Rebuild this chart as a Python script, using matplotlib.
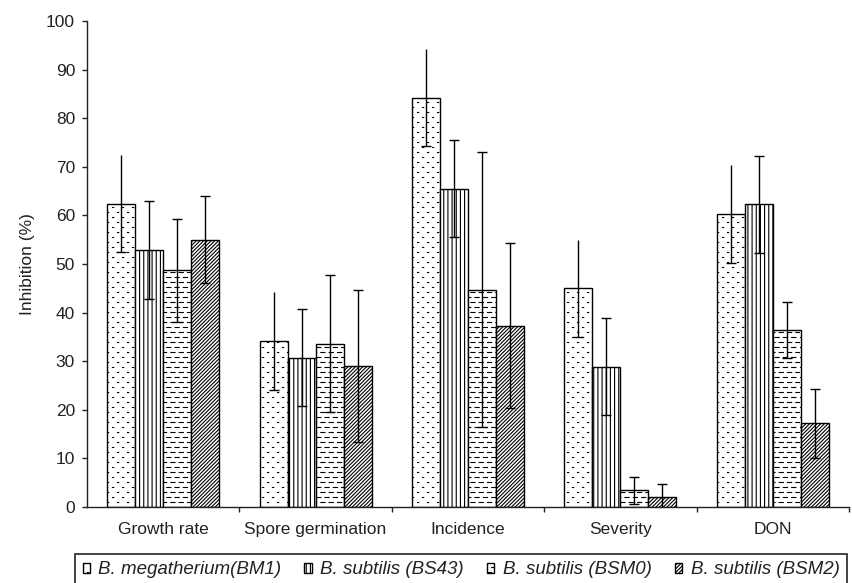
import numpy as np
import matplotlib
matplotlib.use("Agg")
import matplotlib.pyplot as plt
import matplotlib.hatch as mhatch
from matplotlib.path import Path

# ---------------- data ----------------
categories = ["Growth rate", "Spore germination", "Incidence", "Severity", "DON"]
series_names = ["B. megatherium(BM1)", "B. subtilis (BS43)",
                "B. subtilis (BSM0)", "B. subtilis (BSM2)"]
bm1 = [62.4, 34.1, 84.2, 45.0, 60.3]
bs43 = [52.9, 30.7, 65.5, 28.9, 62.3]
bsm0 = [48.7, 33.6, 44.7, 3.4, 36.4]
bsm2 = [55.0, 29.0, 37.3, 2.1, 17.2]
bm1_err = [10.0, 10.1, 10.0, 10.0, 10.0]
bs43_err = [10.0, 10.0, 10.0, 10.0, 10.0]
bsm0_err = [10.6, 14.1, 28.3, 2.8, 5.8]
bsm2_err = [9.0, 15.6, 17.0, 2.6, 7.1]
y_ticks = [0, 10, 20, 30, 40, 50, 60, 70, 80, 90, 100]


# ---------------- custom hatch patterns ----------------
class DotHatch(mhatch.HatchPatternBase):
    def __init__(self, hatch, density):
        n = hatch.count('.')
        self.ncol = 10 * n
        self.nrow = 20 * n
        self.num_vertices = self.ncol * self.nrow * 2 if n else 0

    def set_vertices_and_codes(self, vertices, codes):
        pts = []
        for r in range(self.nrow):
            y = (r + 0.5) / self.nrow
            shift = 0.5 if r % 2 else 0.0
            for c in range(self.ncol):
                x = (c + 0.25 + shift) / self.ncol
                pts.append((x, y))
                pts.append((x + 0.012, y))
        vertices[:] = np.array(pts)
        codes[0::2] = Path.MOVETO
        codes[1::2] = Path.LINETO


class DashHatch(mhatch.HatchPatternBase):
    def __init__(self, hatch, density):
        n = hatch.count('-')
        self.ncol = 12 * n
        self.nrow = 20 * n
        self.num_vertices = self.ncol * self.nrow * 2 if n else 0

    def set_vertices_and_codes(self, vertices, codes):
        pts = []
        p = 1.0 / self.ncol
        for r in range(self.nrow):
            y = (r + 0.5) / self.nrow
            shift = 0.5 if r % 2 else 0.0
            for c in range(self.ncol):
                x0 = (c + shift) * p
                pts.append((x0, y))
                pts.append((x0 + 0.5 * p, y))
        vertices[:] = np.array(pts)
        codes[0::2] = Path.MOVETO
        codes[1::2] = Path.LINETO


_types = mhatch._hatch_types
for i, t in enumerate(_types):
    if t is mhatch.HorizontalHatch:
        _types[i] = DashHatch
    elif t is mhatch.SmallFilledCircles:
        _types[i] = DotHatch

# ---------------- plotting ----------------
plt.rcParams['font.family'] = ['Liberation Sans', 'DejaVu Sans']
plt.rcParams['hatch.linewidth'] = 0.8
plt.rcParams['hatch.color'] = 'black'

FS = 12.5
fig = plt.figure(figsize=(8.52, 5.83), dpi=100)
ax = fig.add_axes([87 / 852, 1 - 507 / 583, (849 - 87) / 852, (507 - 21) / 583])

values = [bm1, bs43, bsm0, bsm2]
errors = [bm1_err, bs43_err, bsm0_err, bsm2_err]
hatches = ['.', '||||', '-', '/' * 9]
width = 0.184
x = np.arange(len(categories))

handles = []
for k in range(4):
    xs = x + (k - 1.5) * width
    b = ax.bar(xs, values[k], width=width, color='white', edgecolor='black',
               linewidth=1.0, hatch=hatches[k], zorder=2, label=series_names[k])
    handles.append(b)
    cont = ax.errorbar(xs, values[k], yerr=errors[k], fmt='none', ecolor='black',
                       elinewidth=1.0, capsize=3.6, capthick=1.0, zorder=3)
    if k == 0:
        for cl in cont.lines[1]:
            yd = np.asarray(cl.get_ydata())
            if np.all(yd > np.asarray(values[k])):
                cl.set_visible(False)

ax.set_xlim(-0.5, len(categories) - 0.5)
ax.set_ylim(0, 100)
ax.set_yticks(y_ticks)
ax.set_yticklabels([str(v) for v in y_ticks])
ax.set_xticks(x)
ax.set_xticklabels(categories)
ax.set_xticks(np.arange(len(categories)) + 0.5, minor=True)

ax.spines['top'].set_visible(False)
ax.spines['right'].set_visible(False)
for s in ['left', 'bottom']:
    ax.spines[s].set_linewidth(1.0)
    ax.spines[s].set_color('#222222')

ax.tick_params(axis='y', direction='out', length=3.6, width=1.0, pad=5,
               labelsize=FS, colors='#222222')
ax.tick_params(axis='x', which='major', length=0, pad=11, labelsize=FS,
               colors='#222222')
ax.tick_params(axis='x', which='minor', direction='out', length=3.6, width=1.0,
               colors='#222222')

ax.set_ylabel("Inhibition (%)", fontsize=FS, color='#222222', labelpad=8)

leg = fig.legend(handles=handles, labels=series_names, loc='upper left',
                 bbox_to_anchor=(75 / 852, 0.0, (847 - 75) / 852, 1 - 554 / 583),
                 ncol=4, mode='expand', borderaxespad=0.0, fancybox=False,
                 edgecolor='#222222', framealpha=1.0, handlelength=0.4,
                 handleheight=0.4, handletextpad=0.45, borderpad=0.4,
                 prop={'style': 'italic', 'size': 13.5})
leg.get_frame().set_linewidth(1.2)
for t in leg.get_texts():
    t.set_color('#222222')

fig.savefig("out.png", dpi=100)
